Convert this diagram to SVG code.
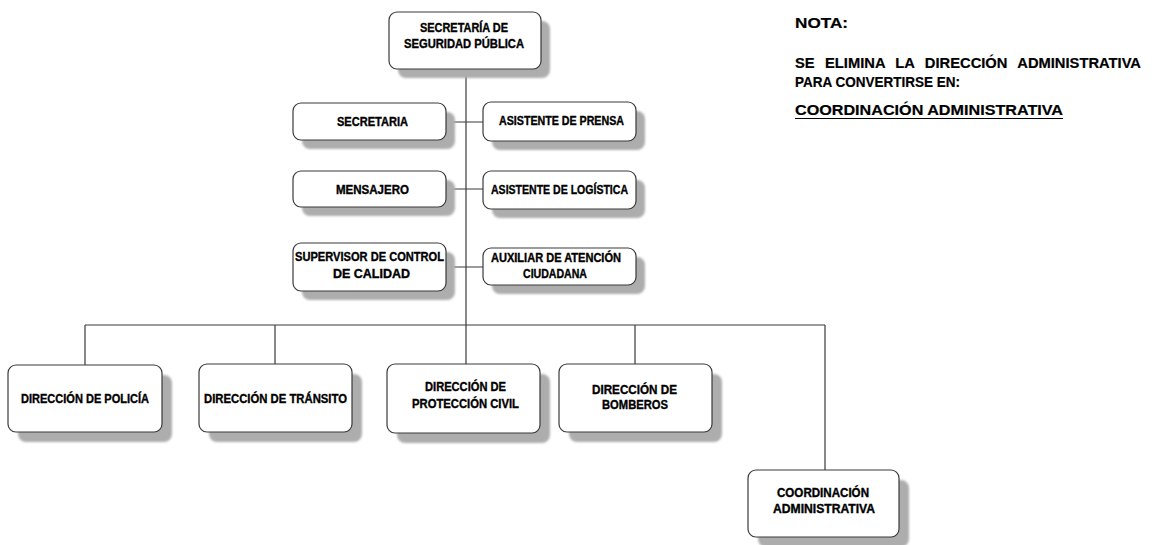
<svg xmlns="http://www.w3.org/2000/svg" width="1152" height="545" viewBox="0 0 1152 545">
<defs>
<filter id="sh" x="-10%" y="-20%" width="130%" height="150%">
<feGaussianBlur stdDeviation="0.8"/>
</filter>
<style>
.box{fill:#fff;stroke:#3a3a3a;stroke-width:1.2}
.shadow{fill:#adadad;filter:url(#sh)}
.t{font-family:"Liberation Sans",Arial,sans-serif;font-weight:bold;font-size:12px;fill:#000;stroke:#000;stroke-width:0.35}
.n{font-family:"Liberation Sans",Arial,sans-serif;font-weight:bold;font-size:14px;fill:#000;stroke:#000;stroke-width:0.2}
.c{fill:none;stroke:#3a3a3a;stroke-width:1.2}
</style>
</defs>
<rect width="1152" height="545" fill="#fff"/>
<g id="connectors">
<path class="c" d="M466 69V325M446 122H483M446 189H483M446 267H483M85 325H825M85 325V365M275 325V364M466 325V364M635 325V364M825 325V470"/>
</g>
<g id="n-secretaria-seguridad">
<rect class="shadow" x="398" y="21" width="152" height="57" rx="8"/>
<rect class="box" x="389" y="12" width="152" height="57" rx="8"/>
<text class="t" x="464" y="32" text-anchor="middle" textLength="88" lengthAdjust="spacingAndGlyphs">SECRETARÍA DE</text>
<text class="t" x="464" y="48" text-anchor="middle" textLength="120" lengthAdjust="spacingAndGlyphs">SEGURIDAD PÚBLICA</text>
</g>
<g id="n-secretaria">
<rect class="shadow" x="302" y="112" width="153" height="37" rx="8"/>
<rect class="box" x="293" y="103" width="153" height="37" rx="8"/>
<text class="t" x="372.5" y="126" text-anchor="middle" textLength="71" lengthAdjust="spacingAndGlyphs">SECRETARIA</text>
</g>
<g id="n-prensa">
<rect class="shadow" x="492" y="111" width="153" height="39" rx="8"/>
<rect class="box" x="483" y="102" width="153" height="39" rx="8"/>
<text class="t" x="561.5" y="125" text-anchor="middle" textLength="125" lengthAdjust="spacingAndGlyphs">ASISTENTE DE PRENSA</text>
</g>
<g id="n-mensajero">
<rect class="shadow" x="302" y="180" width="153" height="36" rx="8"/>
<rect class="box" x="293" y="171" width="153" height="36" rx="8"/>
<text class="t" x="372.5" y="194" text-anchor="middle" textLength="73" lengthAdjust="spacingAndGlyphs">MENSAJERO</text>
</g>
<g id="n-logistica">
<rect class="shadow" x="492" y="180" width="153" height="38" rx="8"/>
<rect class="box" x="483" y="171" width="153" height="38" rx="8"/>
<text class="t" x="559.5" y="194" text-anchor="middle" textLength="137" lengthAdjust="spacingAndGlyphs">ASISTENTE DE LOGÍSTICA</text>
</g>
<g id="n-supervisor">
<rect class="shadow" x="302" y="252" width="153" height="48" rx="8"/>
<rect class="box" x="293" y="243" width="153" height="48" rx="8"/>
<text class="t" x="369.5" y="261" text-anchor="middle" textLength="149" lengthAdjust="spacingAndGlyphs">SUPERVISOR DE CONTROL</text>
<text class="t" x="371.5" y="278" text-anchor="middle" textLength="77" lengthAdjust="spacingAndGlyphs">DE CALIDAD</text>
</g>
<g id="n-auxiliar">
<rect class="shadow" x="492" y="257" width="153" height="37" rx="8"/>
<rect class="box" x="483" y="248" width="153" height="37" rx="8"/>
<text class="t" x="556" y="262" text-anchor="middle" textLength="130" lengthAdjust="spacingAndGlyphs">AUXILIAR DE ATENCIÓN</text>
<text class="t" x="555" y="278" text-anchor="middle" textLength="64" lengthAdjust="spacingAndGlyphs">CIUDADANA</text>
</g>
<g id="n-policia">
<rect class="shadow" x="18" y="375" width="154" height="67" rx="8"/>
<rect class="box" x="8" y="365" width="154" height="67" rx="8"/>
<text class="t" x="85" y="403" text-anchor="middle" textLength="128" lengthAdjust="spacingAndGlyphs">DIRECCIÓN DE POLICÍA</text>
</g>
<g id="n-transito">
<rect class="shadow" x="209" y="374" width="153" height="68" rx="8"/>
<rect class="box" x="199" y="364" width="153" height="68" rx="8"/>
<text class="t" x="275.5" y="403" text-anchor="middle" textLength="143" lengthAdjust="spacingAndGlyphs">DIRECCIÓN DE TRÁNSITO</text>
</g>
<g id="n-proteccion">
<rect class="shadow" x="397" y="374" width="153" height="69" rx="8"/>
<rect class="box" x="387" y="364" width="153" height="69" rx="8"/>
<text class="t" x="465.5" y="391" text-anchor="middle" textLength="81" lengthAdjust="spacingAndGlyphs">DIRECCIÓN DE</text>
<text class="t" x="465.5" y="408" text-anchor="middle" textLength="107" lengthAdjust="spacingAndGlyphs">PROTECCIÓN CIVIL</text>
</g>
<g id="n-bomberos">
<rect class="shadow" x="569" y="374" width="153" height="68" rx="8"/>
<rect class="box" x="559" y="364" width="153" height="68" rx="8"/>
<text class="t" x="634.5" y="394" text-anchor="middle" textLength="85" lengthAdjust="spacingAndGlyphs">DIRECCIÓN DE</text>
<text class="t" x="635" y="409" text-anchor="middle" textLength="66" lengthAdjust="spacingAndGlyphs">BOMBEROS</text>
</g>
<g id="n-coordinacion">
<rect class="shadow" x="758" y="480" width="151" height="67" rx="8"/>
<rect class="box" x="748" y="470" width="151" height="67" rx="8"/>
<text class="t" x="823" y="497" text-anchor="middle" textLength="92" lengthAdjust="spacingAndGlyphs">COORDINACIÓN</text>
<text class="t" x="824" y="513" text-anchor="middle" textLength="102" lengthAdjust="spacingAndGlyphs">ADMINISTRATIVA</text>
</g>
<g id="nota">
<text class="n" x="795" y="28" textLength="53" lengthAdjust="spacingAndGlyphs">NOTA:</text>
<text class="n" x="795" y="68" textLength="346" lengthAdjust="spacingAndGlyphs" word-spacing="6">SE ELIMINA LA DIRECCIÓN ADMINISTRATIVA</text>
<text class="n" x="795" y="87" textLength="165" lengthAdjust="spacingAndGlyphs">PARA CONVERTIRSE EN:</text>
<text class="n" x="795" y="115" textLength="268" lengthAdjust="spacingAndGlyphs">COORDINACIÓN ADMINISTRATIVA</text>
<line x1="795" y1="118.5" x2="1063" y2="118.5" stroke="#000" stroke-width="1.2"/>
</g>
</svg>
